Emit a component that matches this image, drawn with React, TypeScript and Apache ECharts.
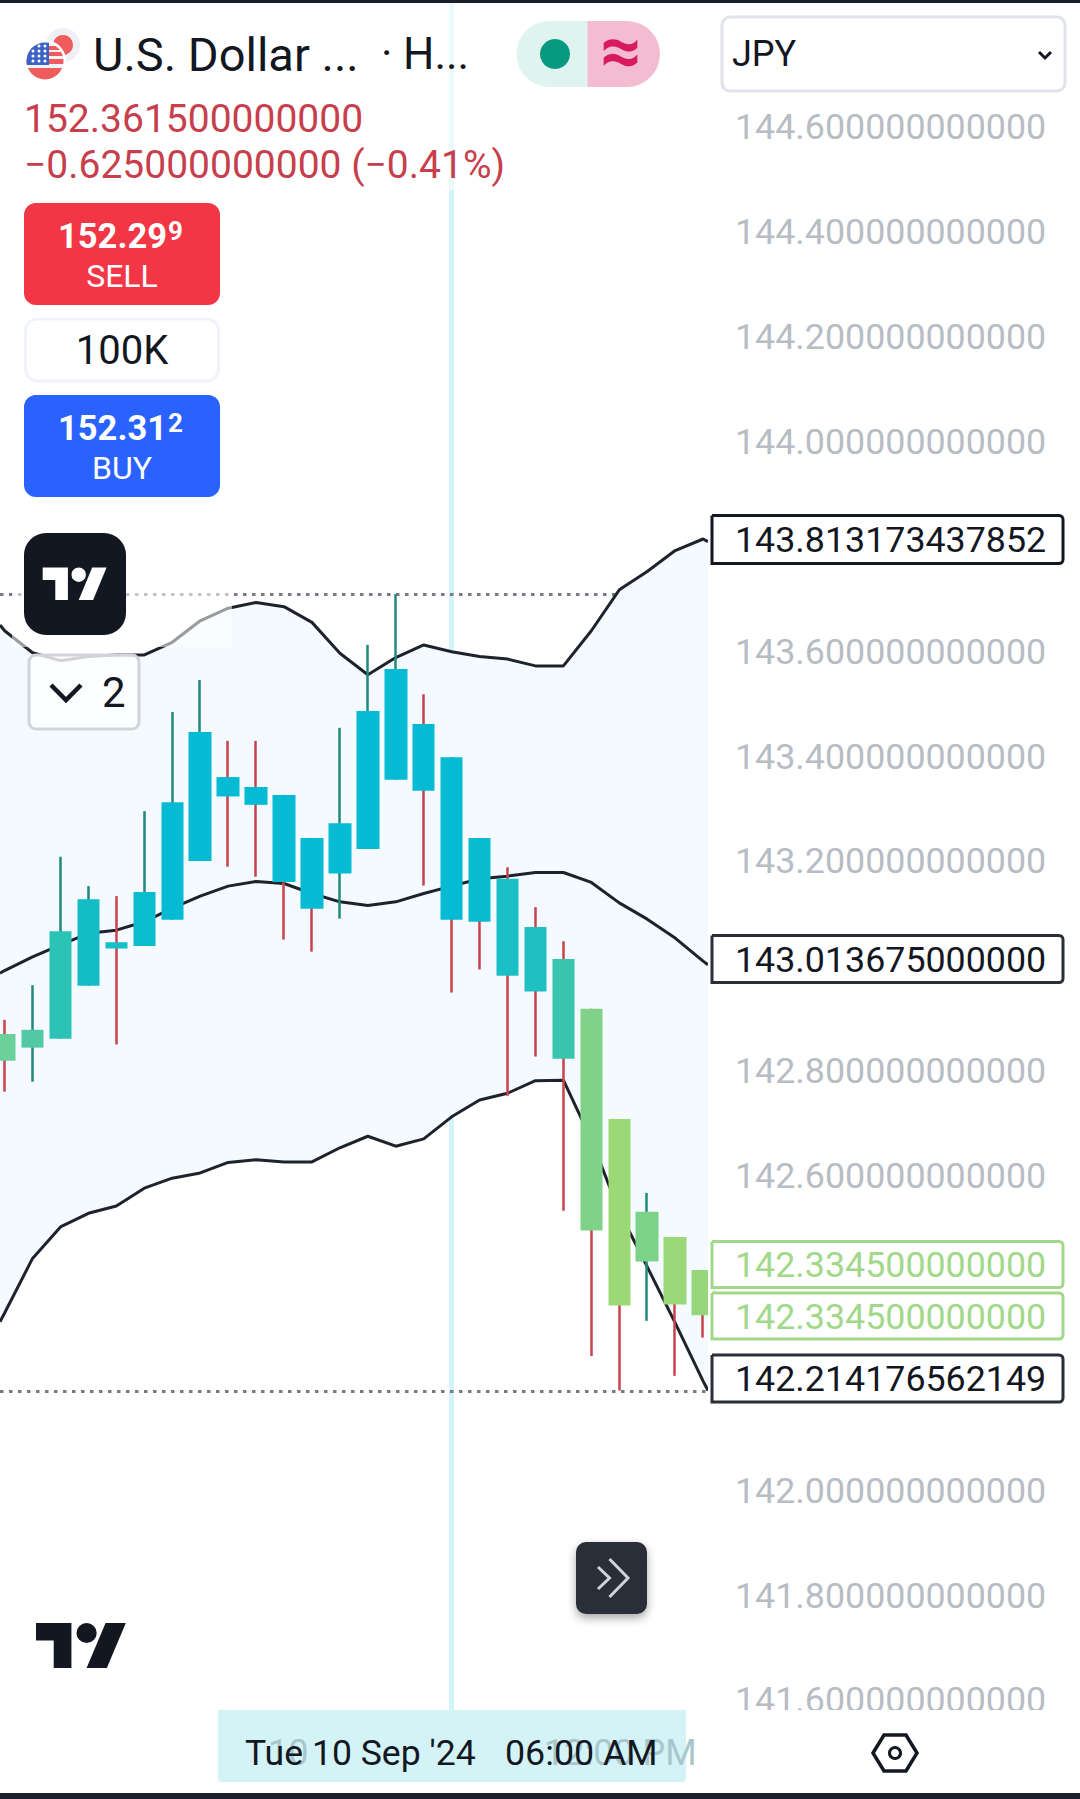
import React, { useEffect, useRef } from 'react'
import * as echarts from 'echarts'

// candle values
const candleIndex = [0, 1, 2, 3, 4, 5, 6, 7, 8, 9, 10, 11, 12, 13, 14, 15, 16, 17, 18, 19, 20, 21, 22, 23, 24, 25]
const opens = [142.871, 142.845, 142.862, 142.963, 143.046, 143.039, 143.089, 143.201, 143.361, 143.342, 143.327, 143.245, 143.177, 143.224, 143.356, 143.462, 143.399, 143.245, 143.167, 143.075, 143.014, 142.919, 142.709, 142.437, 142.484, 142.421]
const closes = [142.82, 142.879, 143.067, 143.128, 143.034, 143.142, 143.313, 143.447, 143.324, 143.308, 143.161, 143.11, 143.273, 143.487, 143.567, 143.335, 143.089, 143.085, 142.982, 142.952, 142.824, 142.496, 142.353, 142.532, 142.355, 142.3345]
const lows = [142.761, 142.78, 142.862, 142.963, 142.851, 143.039, 143.089, 143.201, 143.19, 143.171, 143.051, 143.028, 143.091, 143.224, 143.356, 143.154, 142.95, 142.994, 142.753, 142.828, 142.534, 142.257, 142.191, 142.324, 142.219, 142.292]
const highs = [142.898, 142.964, 143.209, 143.153, 143.134, 143.296, 143.485, 143.546, 143.43, 143.43, 143.327, 143.245, 143.455, 143.613, 143.71, 143.519, 143.399, 143.245, 143.189, 143.113, 143.048, 142.919, 142.709, 142.568, 142.484, 142.421]
const bodyColors = ['#6bd09a', '#52c9a4', '#2bc3b6', '#14bcc8', '#16bec8', '#0bbccf', '#05bbd3', '#05bbd3', '#05bbd3', '#05bbd3', '#05bbd3', '#05bbd3', '#05bbd3', '#05bbd3', '#05bbd3', '#05bbd3', '#05bbd3', '#08bbd1', '#1bc0c6', '#1fc0c2', '#3ac5ae', '#7fd288', '#9dd876', '#7dd28a', '#9bd87a', '#97d77c']

// bollinger bands, first and last entries sit on the edges of the plot
const bandX = [-0.165, 0, 1, 2, 3, 4, 5, 6, 7, 8, 9, 10, 11, 12, 13, 14, 15, 16, 17, 18, 19, 20, 21, 22, 23, 24, 25, 25.175]
const upperBand = [143.651, 143.64, 143.598, 143.583, 143.591, 143.594, 143.594, 143.618, 143.659, 143.683, 143.694, 143.686, 143.656, 143.597, 143.556, 143.589, 143.613, 143.6, 143.591, 143.586, 143.573, 143.573, 143.64, 143.718, 143.753, 143.793, 143.815, 143.81]
const middleBand = [142.987, 142.992, 143.018, 143.041, 143.063, 143.069, 143.085, 143.111, 143.134, 143.153, 143.162, 143.158, 143.139, 143.123, 143.116, 143.123, 143.139, 143.153, 143.167, 143.172, 143.179, 143.179, 143.16, 143.121, 143.09, 143.054, 143.01, 143.003]
const lowerBand = [142.322, 142.339, 142.443, 142.503, 142.529, 142.543, 142.577, 142.596, 142.606, 142.626, 142.631, 142.627, 142.627, 142.654, 142.676, 142.657, 142.671, 142.713, 142.745, 142.758, 142.782, 142.783, 142.669, 142.532, 142.427, 142.32, 142.209, 142.191]

const priceTicks = [144.6, 144.4, 144.2, 144, 143.6, 143.4, 143.2, 142.8, 142.6, 142, 141.8, 141.6]
const crosshairIndex = 16
const rangeHigh = 143.71
const rangeLow = 142.191

const UP_WICK = '#1f8a7d'
const DOWN_WICK = '#c9434f'
const FONT = 'Roboto'

const usFlag =
  'data:image/svg+xml;utf8,' +
  encodeURIComponent(
    `<svg xmlns="http://www.w3.org/2000/svg" viewBox="-19 -19 38 38"><defs><clipPath id="c"><circle r="18.5"/></clipPath></defs><g clip-path="url(#c)"><rect x="-19" y="-19" width="38" height="38" fill="#f0f3fa"/><rect x="-19" y="-15" width="38" height="4" fill="#f05b5b"/><rect x="-19" y="-9" width="38" height="4" fill="#f05b5b"/><rect x="-19" y="-2" width="38" height="5" fill="#f05b5b"/><rect x="-19" y="7" width="38" height="12" fill="#f05b5b"/><rect x="-19" y="-19" width="23" height="23" fill="#3b62c4"/><g fill="#fff"><circle cx="-12" cy="-10" r="1.5"/><circle cx="-6" cy="-10" r="1.5"/><circle cx="0" cy="-10" r="1.5"/><circle cx="-12" cy="-5" r="1.5"/><circle cx="-6" cy="-5" r="1.5"/><circle cx="0" cy="-5" r="1.5"/><circle cx="-12" cy="0" r="1.5"/><circle cx="-6" cy="0" r="1.5"/><circle cx="0" cy="0" r="1.5"/><circle cx="-6" cy="-15" r="1.5"/><circle cx="0" cy="-15" r="1.5"/></g></g></svg>`
  )

echarts.graphic.registerShape(
  'tvLogo',
  echarts.graphic.extendPath('M14 22H7V11H0V4h14v18zM28 22h-8l7.5-18h8L28 22zM16 8a4 4 0 1 0 8 0a4 4 0 1 0-8 0z', {})
)

function label(text: string, x: number, y: number, fontSize: number, fill: string, z = 30, extra: any = {}) {
  return {
    type: 'text',
    z,
    style: { text, x, y, fill, font: `${extra.fontWeight || 400} ${fontSize}px ${FONT}`, align: extra.align || 'left', verticalAlign: 'middle' }
  }
}

function priceTag(text: string, top: number, height: number, color: string, textColor: string) {
  return [
    {
      type: 'rect',
      z: 25,
      shape: { x: 712, y: top, width: 351, height, r: [0, 4, 4, 0] },
      style: { fill: '#ffffff', stroke: color, lineWidth: 3 }
    },
    label(text, 735, top + height / 2 + 0.5, 35.8, textColor)
  ]
}

function buildGraphics() {
  return [
    // frosted panels behind the legend
    { type: 'rect', z: 10, shape: { x: 0, y: 0, width: 520, height: 190 }, style: { fill: 'rgba(255,255,255,0.6)' } },
    { type: 'rect', z: 10, shape: { x: 12, y: 190, width: 220, height: 457 }, style: { fill: 'rgba(255,255,255,0.55)' } },

    // candlestick clip drops whole candles only, so trim the last one at the plot edge
    { type: 'rect', z: 24, shape: { x: 708, y: 0, width: 6, height: 1710 }, style: { fill: '#ffffff' } },

    // bars at the screen edges
    { type: 'rect', z: 40, shape: { x: 0, y: 0, width: 1080, height: 3 }, style: { fill: '#1a1f2b' } },
    { type: 'rect', z: 20, shape: { x: 0, y: 1710, width: 1080, height: 83 }, style: { fill: '#ffffff' } },
    { type: 'rect', z: 40, shape: { x: 0, y: 1793, width: 1080, height: 6 }, style: { fill: '#1a1f2b' } },

    // symbol header
    { type: 'circle', z: 30, shape: { cx: 63, cy: 45, r: 17 }, style: { fill: '#eef0f5' } },
    { type: 'circle', z: 30, shape: { cx: 63, cy: 45, r: 10 }, style: { fill: '#f05b5b' } },
    { type: 'circle', z: 30, shape: { cx: 45, cy: 61, r: 21 }, style: { fill: '#ffffff' } },
    { type: 'image', z: 31, style: { image: usFlag, x: 26, y: 42, width: 38, height: 38 } },
    label('U.S. Dollar ...', 93, 54, 47, '#131722'),
    label('\u00b7', 381, 54, 44, '#131722'),
    label('H...', 403, 54, 44, '#131722'),

    { type: 'rect', z: 30, shape: { x: 516.5, y: 21, width: 71, height: 66, r: [33, 0, 0, 33] }, style: { fill: '#dff3ef' } },
    { type: 'rect', z: 30, shape: { x: 587.5, y: 21, width: 72.5, height: 66, r: [0, 33, 33, 0] }, style: { fill: '#f3bcd0' } },
    { type: 'circle', z: 31, shape: { cx: 555, cy: 54, r: 15 }, style: { fill: '#089981' } },
    label('\u2248', 621, 50, 72, '#d81b60', 31, { align: 'center', fontWeight: 700 }),

    { type: 'rect', z: 30, shape: { x: 722, y: 17, width: 343, height: 74, r: 8 }, style: { fill: '#ffffff', stroke: '#e0e3eb', lineWidth: 3 } },
    label('JPY', 732, 54, 36, '#131722'),
    { type: 'polyline', z: 31, shape: { points: [[1039, 52], [1045, 58], [1051, 52]] }, style: { stroke: '#131722', lineWidth: 3, fill: 'none' } },

    label('152.361500000000', 24, 119, 39, '#c73f4c'),
    label('\u22120.625000000000 (\u22120.41%)', 24, 165, 39, '#c73f4c'),

    // trade buttons
    { type: 'rect', z: 30, shape: { x: 24, y: 203, width: 196, height: 102, r: 12 }, style: { fill: '#f23645' } },
    label('152.29', 58, 236, 34.5, '#ffffff', 31, { fontWeight: 700 }),
    label('9', 168, 231, 26, '#ffffff', 31, { fontWeight: 700 }),
    label('SELL', 122, 276, 32, '#ffffff', 31, { align: 'center' }),
    { type: 'rect', z: 30, shape: { x: 25.5, y: 319, width: 193, height: 62, r: 12 }, style: { fill: '#ffffff', stroke: '#f0f3fa', lineWidth: 3 } },
    label('100K', 122, 350, 40, '#131722', 31, { align: 'center' }),
    { type: 'rect', z: 30, shape: { x: 24, y: 395, width: 196, height: 102, r: 12 }, style: { fill: '#2962ff' } },
    label('152.31', 58, 428, 34.5, '#ffffff', 31, { fontWeight: 700 }),
    label('2', 168, 423, 26, '#ffffff', 31, { fontWeight: 700 }),
    label('BUY', 122, 468, 32, '#ffffff', 31, { align: 'center' }),

    // logo badge and collapse button
    { type: 'rect', z: 30, shape: { x: 24, y: 533, width: 102, height: 102, r: 22 }, style: { fill: '#131722' } },
    { type: 'tvLogo', z: 31, x: 42.7, y: 560.3, scaleX: 1.8, scaleY: 1.8, style: { fill: '#ffffff' } },
    { type: 'rect', z: 30, shape: { x: 29, y: 655, width: 110, height: 74, r: 7 }, style: { fill: 'rgba(255,255,255,0.8)', stroke: '#d1d4dc', lineWidth: 3 } },
    { type: 'polyline', z: 31, shape: { points: [[51, 685], [66, 700], [81, 685]] }, style: { stroke: '#131722', lineWidth: 4.5, fill: 'none' } },
    label('2', 102, 692, 42, '#131722', 31),

    // right hand price tags
    ...priceTag('143.813173437852', 515.5, 48, '#131722', '#131722'),
    ...priceTag('143.013675000000', 935.5, 47, '#2a2e39', '#131722'),
    ...priceTag('142.334500000000', 1241.5, 46, '#a2d88a', '#a2d88a'),
    ...priceTag('142.334500000000', 1293, 46, '#a2d88a', '#a2d88a'),
    ...priceTag('142.214176562149', 1355, 47, '#2a2e39', '#131722'),

    // scroll to latest
    { type: 'rect', z: 30, shape: { x: 576, y: 1542, width: 71, height: 72, r: 10 }, style: { fill: '#2a2e39', shadowBlur: 10, shadowColor: 'rgba(0,0,0,0.35)', shadowOffsetY: 4 } },
    { type: 'polyline', z: 31, shape: { points: [[609.5, 1559], [628, 1578], [609.5, 1597]] }, style: { stroke: '#d1d4dc', lineWidth: 3, fill: 'none' } },
    { type: 'polyline', z: 31, shape: { points: [[598, 1567], [609.5, 1578], [598, 1589]] }, style: { stroke: '#d1d4dc', lineWidth: 3, fill: 'none' } },

    { type: 'tvLogo', z: 30, x: 36, y: 1613, scaleX: 2.53, scaleY: 2.5, style: { fill: '#131722' } },

    // time scale
    { type: 'rect', z: 30, shape: { x: 218, y: 1710, width: 468, height: 72, r: [0, 0, 4, 4] }, style: { fill: '#d4f3f7' } },
    label('10', 268, 1753, 36, '#a9c6cd', 31),
    label('12:00 PM', 544, 1753, 36, '#a9c6cd', 31),
    label("Tue 10 Sep '24", 245, 1753, 35.6, '#131722', 32),
    label('06:00 AM', 505, 1753, 35.8, '#131722', 32),

    // settings
    { type: 'polygon', z: 30, shape: { points: [[873, 1753], [884, 1735], [906, 1735], [917, 1753], [906, 1771], [884, 1771]] }, style: { stroke: '#131722', lineWidth: 3.5, fill: 'none' } },
    { type: 'circle', z: 30, shape: { cx: 895, cy: 1753, r: 5.5 }, style: { stroke: '#131722', lineWidth: 3, fill: 'none' } }
  ]
}

export default function App() {
  const chartRef = useRef<HTMLDivElement>(null)

  useEffect(() => {
    if (!chartRef.current) return
    document.body.style.margin = '0'
    const chart = echarts.init(chartRef.current, null, { renderer: 'svg' })

    const wicks = candleIndex.map((x, i) => {
      const color = closes[i] >= opens[i] ? UP_WICK : DOWN_WICK
      return {
        value: [x, opens[i], closes[i], lows[i], highs[i]],
        itemStyle: { color, color0: color, borderColor: color, borderColor0: color }
      }
    })
    const bodies = candleIndex.map((x, i) => {
      const color = bodyColors[i]
      return {
        value: [x, opens[i], closes[i], Math.min(opens[i], closes[i]), Math.max(opens[i], closes[i])],
        itemStyle: { color, color0: color, borderColor: color, borderColor0: color }
      }
    })

    const bandLine = (name: string, data: number[]) => ({
      name,
      type: 'line',
      z: 2,
      data: bandX.map((x, i) => [x, data[i]]),
      symbol: 'none',
      clip: true,
      silent: true,
      lineStyle: { color: '#1e222d', width: 3 }
    })

    const option: any = {
      animation: false,
      backgroundColor: '#ffffff',
      grid: { left: 0, width: 708, top: -82.35, height: 1887.66, outerBoundsMode: 'none' },
      xAxis: {
        type: 'value',
        min: -0.165,
        max: 25.175,
        show: false,
        splitLine: { show: false }
      },
      yAxis: {
        type: 'value',
        position: 'right',
        min: 141.4,
        max: 145,
        axisLine: { show: false },
        axisTick: { show: false },
        splitLine: { show: false },
        axisLabel: {
          customValues: priceTicks,
          margin: 27,
          color: '#b8bcc4',
          fontFamily: FONT,
          fontSize: 35.8,
          formatter: (v: number) => v.toFixed(12)
        }
      },
      series: [
        {
          name: 'band fill',
          type: 'custom',
          z: 1,
          clip: true,
          silent: true,
          data: bandX.map((x, i) => [x, lowerBand[i], upperBand[i]]),
          encode: { x: 0, y: [1, 2] },
          renderItem: (params: any, api: any) => {
            if (params.dataIndex !== 0) return null
            const top = upperBand.map((v, i) => api.coord([bandX[i], v]))
            const bottom = lowerBand.map((v, i) => api.coord([bandX[i], v])).reverse()
            return { type: 'polygon', shape: { points: [...top, ...bottom] }, style: { fill: '#f4faff' } }
          },
          markLine: {
            silent: true,
            z: 1,
            symbol: 'none',
            label: { show: false },
            data: [
              { xAxis: crosshairIndex, lineStyle: { color: '#d3f3f8', width: 5, type: 'solid' } },
              { yAxis: rangeHigh, lineStyle: { color: '#787b86', width: 3, type: [3.5, 5.5] } },
              { yAxis: rangeLow, lineStyle: { color: '#787b86', width: 3, type: [3.5, 5.5] } }
            ]
          }
        },
        bandLine('upper', upperBand),
        bandLine('middle', middleBand),
        bandLine('lower', lowerBand),
        {
          name: 'wicks',
          type: 'candlestick',
          z: 3,
          silent: true,
          clip: true,
          barWidth: 1,
          encode: { x: 0, y: [1, 2, 3, 4] },
          itemStyle: { borderWidth: 2.5 },
          data: wicks
        },
        {
          name: 'bodies',
          type: 'candlestick',
          z: 4,
          silent: true,
          clip: true,
          barWidth: 23,
          encode: { x: 0, y: [1, 2, 3, 4] },
          itemStyle: { borderWidth: 0 },
          data: bodies
        }
      ],
      graphic: { elements: buildGraphics() }
    }

    chart.setOption(option)
    return () => {
      chart.dispose()
    }
  }, [])

  return <div ref={chartRef} style={{ position: 'absolute', left: 0, top: 0, width: 1080, height: 1799 }} />
}
